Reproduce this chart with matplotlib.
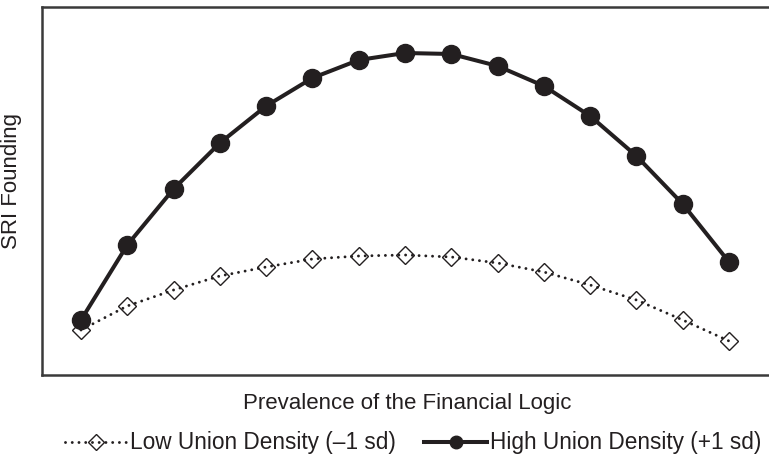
import matplotlib
matplotlib.use("Agg")
import matplotlib.pyplot as plt
from matplotlib.lines import Line2D

plt.rcParams['font.family'] = ['Liberation Sans', 'DejaVu Sans']

# data (arbitrary units)
x_points = list(range(1, 16))
low_union = [45, 69, 85, 99, 108, 116, 119, 120, 118, 112, 103, 90, 75, 55, 34]
high_union = [55, 130, 186, 232, 269, 297, 315, 322, 321, 309, 289, 259, 219, 171, 113]

x_label = "Prevalence of the Financial Logic"
y_label = "SRI Founding"
low_name = "Low Union Density (\u20131 sd)"
high_name = "High Union Density (+1 sd)"

ink = '#231f20'
spine_col = '#3a3a3a'

fig = plt.figure(figsize=(7.69, 4.62), dpi=100)
ax = fig.add_axes([42/769, 1-375/462, 1-42/769, (375-7)/462])

ax.plot(x_points, low_union, linestyle=(0, (0.01, 2.3)), dash_capstyle='round',
        lw=2.1, color=ink, marker='D', markersize=8.8, markerfacecolor='none',
        markeredgecolor=ink, markeredgewidth=1.0, zorder=2)
ax.plot(x_points, high_union, linestyle='-', lw=2.9, color=ink, marker='o',
        markersize=13, markerfacecolor=ink, markeredgecolor=ink, zorder=3)

ax.set_xlim(0.1575, 15.864)
ax.set_ylim(0, 368)
ax.set_xticks([])
ax.set_yticks([])
for s in ['left', 'bottom', 'top']:
    ax.spines[s].set_color(spine_col)
    ax.spines[s].set_linewidth(1.8)
ax.spines['right'].set_visible(False)

fig.text(407/769, 1-403/462, x_label, ha='center', va='center', fontsize=16, color=ink)
fig.text(12/769, 1-181/462, y_label, ha='center', va='center', rotation=90, fontsize=16, color=ink)

h_low = Line2D([], [], linestyle=(0, (0.01, 2.3)), dash_capstyle='round', lw=2.1, color=ink,
               marker='D', markersize=8.5, markerfacecolor='none', markeredgecolor=ink,
               markeredgewidth=1.0)
h_high = Line2D([], [], linestyle='-', lw=2.9, color=ink, marker='o', markersize=9,
                markerfacecolor=ink, markeredgecolor=ink)
fig.legend([h_low, h_high], [low_name, high_name], loc='center',
           bbox_to_anchor=(413/769, 1-443/462), ncol=2, frameon=False, fontsize=16.3,
           handlelength=2.75, handletextpad=0.15, columnspacing=1.25, borderpad=0,
           labelcolor=ink)

fig.savefig('out.png', dpi=100)
